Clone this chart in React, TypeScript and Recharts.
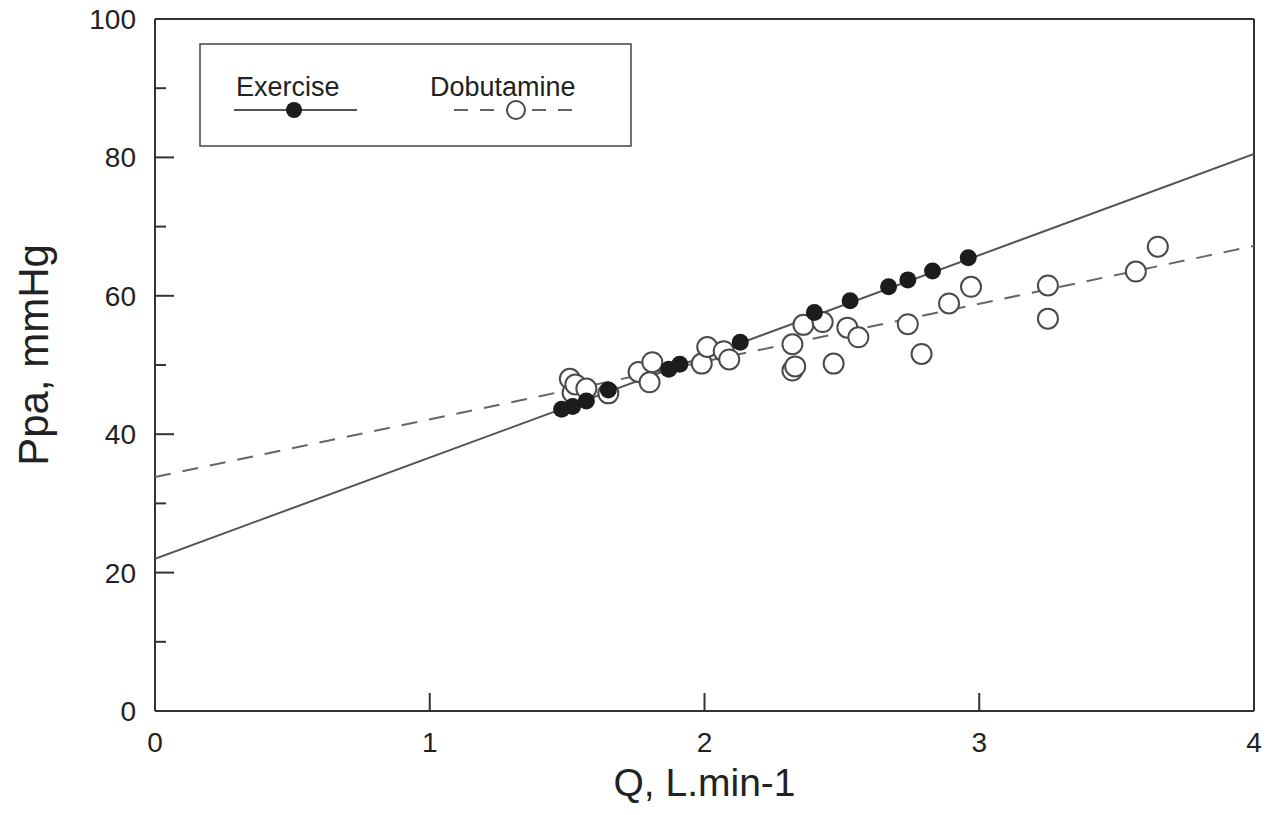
import React from "react";
import {
  ScatterChart,
  Scatter,
  XAxis,
  YAxis,
  ReferenceLine,
  Legend,
} from "recharts";

// values: Q (L/min) vs Ppa (mmHg)
const exercisePoints = [
  { x: 1.48, y: 43.6 },
  { x: 1.52, y: 44.0 },
  { x: 1.57, y: 44.8 },
  { x: 1.65, y: 46.4 },
  { x: 1.87, y: 49.4 },
  { x: 1.91, y: 50.1 },
  { x: 2.13, y: 53.3 },
  { x: 2.4, y: 57.6 },
  { x: 2.53, y: 59.3 },
  { x: 2.67, y: 61.3 },
  { x: 2.74, y: 62.3 },
  { x: 2.83, y: 63.6 },
  { x: 2.96, y: 65.5 },
];

const dobutaminePoints = [
  { x: 1.51, y: 48.0 },
  { x: 1.52, y: 46.0 },
  { x: 1.53, y: 47.2 },
  { x: 1.57, y: 46.6 },
  { x: 1.65, y: 45.9 },
  { x: 1.76, y: 49.0 },
  { x: 1.81, y: 50.4 },
  { x: 1.8, y: 47.5 },
  { x: 1.99, y: 50.2 },
  { x: 2.01, y: 52.6 },
  { x: 2.07, y: 52.0 },
  { x: 2.09, y: 50.8 },
  { x: 2.32, y: 49.2 },
  { x: 2.33, y: 49.8 },
  { x: 2.32, y: 53.0 },
  { x: 2.36, y: 55.8 },
  { x: 2.43, y: 56.2 },
  { x: 2.47, y: 50.2 },
  { x: 2.52, y: 55.4 },
  { x: 2.56, y: 54.0 },
  { x: 2.74, y: 55.9 },
  { x: 2.79, y: 51.6 },
  { x: 2.89, y: 58.9 },
  { x: 2.97, y: 61.3 },
  { x: 3.25, y: 61.5 },
  { x: 3.25, y: 56.7 },
  { x: 3.57, y: 63.5 },
  { x: 3.65, y: 67.1 },
];

// regression lines, end points read at Q = 0 and Q = 4
const exerciseFit = [
  { x: 0, y: 22 },
  { x: 4, y: 80.5 },
];
const dobutamineFit = [
  { x: 0, y: 33.8 },
  { x: 4, y: 67.2 },
];

const xTicks = [0, 1, 2, 3, 4];
const yTicks = [0, 10, 20, 30, 40, 50, 60, 70, 80, 90, 100];

const FONT = '"Liberation Sans", Arial, Helvetica, sans-serif';
const INK = "#333";

const FilledDot = (props: any) => {
  const { cx, cy } = props;
  if (cx == null || cy == null) return <g />;
  return <circle cx={cx} cy={cy} r={8.5} fill="#1c1c1c" />;
};

const OpenDot = (props: any) => {
  const { cx, cy } = props;
  if (cx == null || cy == null) return <g />;
  return <circle cx={cx} cy={cy} r={10} fill="#fff" stroke="#4a4a4a" strokeWidth={2} />;
};

const NoDot = () => <g />;

const YTick = (props: any) => {
  const { x, y, payload } = props;
  const v = payload.value;
  const major = v % 20 === 0;
  return (
    <g>
      {v > 0 && v < 100 && (
        <line x1={x} x2={x + (major ? 19 : 11)} y1={y} y2={y} stroke={INK} strokeWidth={2} />
      )}
      {major && (
        <text x={x - 19} y={y + 10} textAnchor="end" fontSize={28} fill="#222" fontFamily={FONT}>
          {v}
        </text>
      )}
    </g>
  );
};

const XTick = (props: any) => {
  const { x, y, payload } = props;
  const v = payload.value;
  return (
    <g>
      {v > 0 && v < 4 && <line x1={x} x2={x} y1={y} y2={y - 18} stroke={INK} strokeWidth={2} />}
      <text x={x} y={y + 41} textAnchor="middle" fontSize={28} fill="#222" fontFamily={FONT}>
        {v}
      </text>
    </g>
  );
};

const YLabel = (props: any) => {
  const vb = props.viewBox || {};
  const cx = (vb.x || 0) + 48;
  const cy = (vb.y || 0) + (vb.height || 0) / 2 - 10;
  return (
    <text
      x={cx}
      y={cy}
      transform={`rotate(-90, ${cx}, ${cy})`}
      textAnchor="middle"
      fontSize={42}
      fill="#222"
      fontFamily={FONT}
    >
      Ppa, mmHg
    </text>
  );
};

const LegendBox = () => (
  <svg width={434} height={105} style={{ display: "block" }}>
    <rect x={1} y={1} width={431} height={102} fill="#fff" stroke="#444" strokeWidth={1.5} />
    <text x={37} y={53} fontSize={27} fill="#222" fontFamily={FONT}>
      Exercise
    </text>
    <line x1={35} x2={158} y1={67} y2={67} stroke="#555" strokeWidth={2} />
    <circle cx={95} cy={67} r={8} fill="#1c1c1c" />
    <text x={231} y={53} fontSize={27} fill="#222" fontFamily={FONT}>
      Dobutamine
    </text>
    <line x1={255} x2={378} y1={67} y2={67} stroke="#666" strokeWidth={2} strokeDasharray="14 12" />
    <circle cx={317} cy={67} r={9} fill="#fff" stroke="#4a4a4a" strokeWidth={2} />
  </svg>
);

export default function App() {
  return (
    <div style={{ position: "absolute", left: 0, top: 0, background: "#fff" }}>
      <ScatterChart width={1274} height={815} margin={{ top: 19, right: 20, left: 0, bottom: 0 }}>
        <XAxis
          type="number"
          dataKey="x"
          domain={[0, 4]}
          ticks={xTicks}
          allowDataOverflow
          height={104}
          tickSize={0}
          tickMargin={0}
          tickLine={false}
          axisLine={{ stroke: INK, strokeWidth: 2 }}
          tick={<XTick />}
          label={{
            value: "Q, L.min-1",
            position: "insideBottom",
            offset: 19,
            fontSize: 39,
            fill: "#222",
            fontFamily: FONT,
          }}
        />
        <YAxis
          type="number"
          dataKey="y"
          domain={[0, 100]}
          ticks={yTicks}
          allowDataOverflow
          width={155}
          tickSize={0}
          tickMargin={0}
          tickLine={false}
          axisLine={{ stroke: INK, strokeWidth: 2 }}
          tick={<YTick />}
          label={<YLabel />}
        />
        <ReferenceLine y={100} stroke={INK} strokeWidth={2} />
        <ReferenceLine x={4} stroke={INK} strokeWidth={2} />
        <Legend
          layout="horizontal"
          verticalAlign="middle"
          align="center"
          wrapperStyle={{ left: 199, top: 43, width: 434, height: 105 }}
          content={() => <LegendBox />}
        />
        <Scatter
          name="Exercise fit"
          data={exerciseFit}
          line={{ stroke: "#555", strokeWidth: 2 }}
          lineType="joint"
          shape={<NoDot />}
          legendType="none"
          isAnimationActive={false}
        />
        <Scatter
          name="Dobutamine fit"
          data={dobutamineFit}
          line={{ stroke: "#666", strokeWidth: 2, strokeDasharray: "16 12" }}
          lineType="joint"
          shape={<NoDot />}
          legendType="none"
          isAnimationActive={false}
        />
        <Scatter
          name="Dobutamine"
          data={dobutaminePoints}
          shape={<OpenDot />}
          isAnimationActive={false}
        />
        <Scatter
          name="Exercise"
          data={exercisePoints}
          shape={<FilledDot />}
          isAnimationActive={false}
        />
      </ScatterChart>
    </div>
  );
}
